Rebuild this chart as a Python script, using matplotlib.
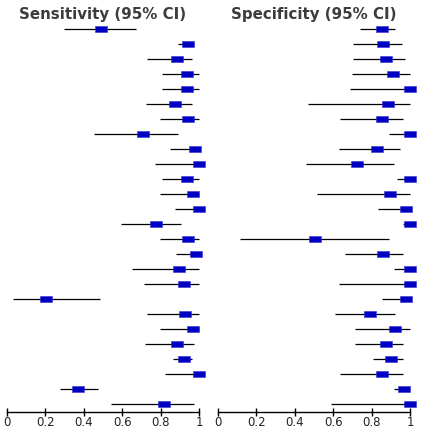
import matplotlib
matplotlib.use("Agg")
import matplotlib.pyplot as plt
import numpy as np

# sensitivity per study: point estimate and 95% CI
sens = [0.49, 0.943, 0.884, 0.934, 0.934, 0.875, 0.943, 0.708, 0.978, 1.0, 0.934, 0.969, 1.0,
        0.775, 0.943, 0.985, 0.893, 0.919, 0.202, 0.926, 0.969, 0.884, 0.919, 1.0, 0.369, 0.818]
sens_lo = [0.30, 0.888, 0.728, 0.805, 0.805, 0.722, 0.796, 0.452, 0.846, 0.772, 0.805, 0.796, 0.872,
           0.593, 0.796, 0.881, 0.652, 0.711, 0.034, 0.728, 0.796, 0.72, 0.863, 0.822, 0.275, 0.543]
sens_hi = [0.671, 0.972, 0.964, 0.998, 0.998, 0.964, 1.0, 0.888, 1.0, 1.0, 0.998, 1.0, 1.0,
           0.905, 1.0, 1.0, 0.998, 0.998, 0.484, 0.998, 1.0, 0.972, 0.964, 1.0, 0.476, 0.972]

# specificity per study
spec = [0.851, 0.860, 0.875, 0.910, 1.0, 0.884, 0.851, 1.0, 0.825, 0.725, 1.0, 0.893, 0.978,
        1.0, 0.505, 0.860, 1.0, 1.0, 0.978, 0.792, 0.919, 0.875, 0.901, 0.851, 0.969, 1.0]
spec_lo = [0.737, 0.704, 0.704, 0.696, 0.687, 0.467, 0.637, 0.89, 0.628, 0.46, 0.931, 0.517, 0.83,
           0.964, 0.114, 0.663, 0.914, 0.628, 0.855, 0.611, 0.711, 0.711, 0.805, 0.637, 0.914, 0.587]
spec_hi = [0.922, 0.955, 0.972, 0.998, 1.0, 1.0, 0.964, 1.0, 0.948, 0.914, 1.0, 1.0, 1.0,
           1.0, 0.889, 0.964, 1.0, 1.0, 1.0, 0.922, 0.998, 0.964, 0.964, 0.964, 0.998, 1.0]

titles = ["Sensitivity (95% CI)", "Specificity (95% CI)"]
ticks = [0, 0.2, 0.4, 0.6, 0.8, 1]
tick_labels = ["0", "0.2", "0.4", "0.6", "0.8", "1"]

W, H = 422, 428
fig = plt.figure(figsize=(W / 100, H / 100), dpi=100)

box = [(-1, -0.6), (1, -0.6), (1, 0.6), (-1, 0.6), (-1, -0.6)]
scale = 192.6  # pixels per unit
xmax = 1.06
rows = np.arange(len(sens))

panels = [(6.7, sens, sens_lo, sens_hi), (217.7, spec, spec_lo, spec_hi)]
for (x0, est, lo, hi), title in zip(panels, titles):
    ax = fig.add_axes([x0 / W, (H - 411.5) / H, scale * xmax / W, (411.5 - 14.3) / H])
    ax.hlines(rows, lo, hi, color="black", lw=0.9)
    ax.scatter(est, rows, marker=box, s=70, color="#0000c0", edgecolor="#3030d8", lw=0.4, zorder=3)
    ax.set_xlim(0, xmax)
    ax.set_ylim(25.48, -1)
    for s in ["top", "right", "left"]:
        ax.spines[s].set_visible(False)
    ax.spines["bottom"].set_bounds(0, 1)
    ax.spines["bottom"].set_linewidth(1.0)
    ax.set_yticks([])
    ax.set_xticks(ticks)
    ax.set_xticklabels(tick_labels, fontsize=8.5, color="#222222")
    ax.tick_params(axis="x", direction="inout", length=5.2, width=1.0, pad=0.8)
    ax.patch.set_alpha(0)
    fig.text((x0 + scale * 0.5) / W, 1 - 14.7 / H, title, ha="center", va="center",
             fontsize=10.8, fontweight="bold", color="#3c3c3c")

fig.savefig("out.png", dpi=100)
